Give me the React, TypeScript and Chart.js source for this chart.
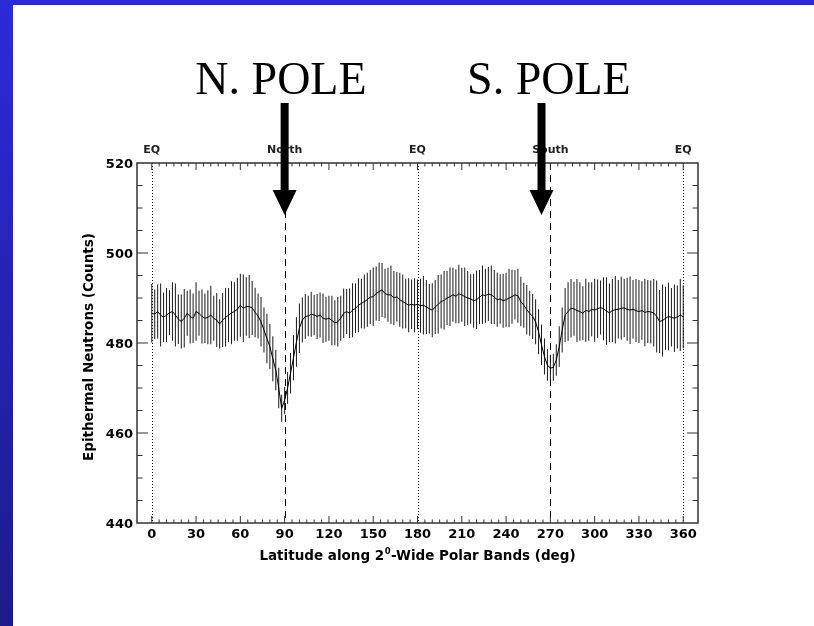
import { useEffect, useRef } from "react";
import { Chart, registerables } from "chart.js";

Chart.register(...registerables);

// ---- data ----
const latitudes = [
  0, 2, 4, 6, 8, 10, 12, 14, 16, 18, 20, 22, 24, 26, 28,
  30, 32, 34, 36, 38, 40, 42, 44, 46, 48, 50, 52, 54, 56, 58,
  60, 62, 64, 66, 68, 70, 72, 74, 76, 78, 80, 82, 84, 86, 88,
  90, 92, 94, 96, 98, 100, 102, 104, 106, 108, 110, 112, 114, 116, 118,
  120, 122, 124, 126, 128, 130, 132, 134, 136, 138, 140, 142, 144, 146, 148,
  150, 152, 154, 156, 158, 160, 162, 164, 166, 168, 170, 172, 174, 176, 178,
  180, 182, 184, 186, 188, 190, 192, 194, 196, 198, 200, 202, 204, 206, 208,
  210, 212, 214, 216, 218, 220, 222, 224, 226, 228, 230, 232, 234, 236, 238,
  240, 242, 244, 246, 248, 250, 252, 254, 256, 258, 260, 262, 264, 266, 268,
  270, 272, 274, 276, 278, 280, 282, 284, 286, 288, 290, 292, 294, 296, 298,
  300, 302, 304, 306, 308, 310, 312, 314, 316, 318, 320, 322, 324, 326, 328,
  330, 332, 334, 336, 338, 340, 342, 344, 346, 348, 350, 352, 354, 356, 358,
  360,
];

const counts = [
  486.6, 486.4, 487.0, 486.2, 485.7, 486.2, 486.7, 487.0, 486.2, 485.3, 484.8, 485.5, 486.6, 485.9, 485.5,
  487.0, 486.6, 485.9, 485.5, 485.7, 486.2, 485.5, 485.1, 484.2, 485.1, 485.7, 486.2, 486.7, 487.0, 487.5,
  488.4, 487.7, 488.1, 488.1, 487.8, 486.8, 486.0, 484.7, 482.9, 481.0, 479.2, 476.5, 474.0, 470.0, 465.5,
  467.3, 470.0, 473.3, 476.7, 480.2, 483.3, 485.1, 485.9, 486.0, 486.4, 486.2, 485.9, 486.2, 485.5, 485.3,
  485.5, 485.0, 484.5, 484.7, 485.5, 486.6, 487.0, 486.6, 487.3, 487.7, 488.4, 488.8, 489.2, 489.6, 490.2,
  490.3, 491.0, 491.4, 491.8, 491.0, 490.7, 490.7, 490.0, 490.3, 489.6, 489.2, 488.8, 488.4, 488.6, 488.4,
  488.6, 488.3, 488.4, 488.0, 487.6, 487.3, 488.0, 488.6, 489.2, 489.5, 490.0, 490.3, 490.7, 490.4, 490.9,
  490.7, 490.3, 490.0, 489.8, 489.4, 489.6, 490.2, 490.7, 490.5, 490.9, 490.7, 490.2, 489.6, 489.8, 489.4,
  489.6, 490.0, 490.3, 490.7, 490.5, 489.2, 488.4, 487.4, 486.6, 485.9, 484.7, 482.5, 479.6, 477.0, 475.1,
  474.4, 474.6, 476.2, 479.2, 482.9, 486.2, 487.0, 487.7, 487.6, 487.2, 487.0, 486.6, 487.3, 487.0, 487.5,
  487.3, 487.6, 487.9, 487.6, 487.1, 486.7, 487.2, 487.4, 487.5, 487.7, 487.8, 487.5, 487.3, 487.5, 487.2,
  487.0, 487.2, 486.8, 487.0, 486.9, 486.7, 485.9, 484.8, 485.0, 485.5, 485.9, 485.7, 485.5, 485.8, 486.2,
  485.8,
];

const errors = [
  6.5, 5.5, 6, 7, 5.5, 6, 5, 6.5, 7, 5.5, 6, 6.5, 5, 6, 5.5,
  6.5, 5, 6, 5.5, 6, 6.5, 5, 6, 5.5, 6, 6.5, 6, 7, 6.5, 7,
  7, 7.5, 6.5, 7, 6, 5.5, 5, 5.5, 5, 5.5, 5, 5, 4.5, 4.5, 3,
  3, 3.5, 4.5, 5, 5.5, 5.5, 5, 5, 4.5, 5, 4.5, 5, 5, 5.5, 5,
  5, 5.5, 5, 5.5, 5, 5.5, 5, 5.5, 6, 5.5, 6, 5.5, 6, 6, 6,
  6.5, 6, 6.5, 6, 5.5, 6, 6.5, 6, 5.5, 6, 6, 5.5, 6, 5.5, 6,
  5.5, 6, 6.5, 6, 5.5, 6, 6, 6.5, 6, 6.5, 6, 6.5, 6, 6, 6.5,
  6, 6.5, 6, 5.5, 6, 6.5, 6, 6.5, 6, 6, 6.5, 6, 6, 5.5, 6,
  6, 6.5, 6, 5.5, 6, 5.5, 5, 5.5, 5, 5, 5, 5, 4.5, 4, 3.5,
  3, 3, 3.5, 4.5, 5, 6, 6.5, 6.5, 6, 7, 6.5, 6, 7, 6.5, 6,
  7, 6.5, 6, 7, 7.5, 6.5, 7, 7.5, 6.5, 7, 6.5, 7, 7.5, 6.5, 7,
  7, 6.5, 7.5, 7, 7, 7.5, 8, 7, 8, 7, 7.5, 6.5, 7.5, 7, 8,
  7,
];

const xTickValues = [0, 30, 60, 90, 120, 150, 180, 210, 240, 270, 300, 330, 360];
const yTickValues = [440, 460, 480, 500, 520];
const topLabelValues = [0, 90, 180, 270, 360];
const topLabelTexts = ["EQ", "North", "EQ", "South", "EQ"];
const dottedLines = [0, 180, 360];
const dashedLines = [90, 270];
const poleTitles = ["N. POLE", "S. POLE"];
const poleTitleCenters = [87.5, 269];
const arrowLatitudes = [90, 264];
const xTitleParts = ["Latitude along 2", "0", "-Wide Polar Bands (deg)"];
const yTitle = "Epithermal Neutrons (Counts)";

const X_MIN = -10;
const X_MAX = 370;
const Y_MIN = 440;
const Y_MAX = 520;
const X_MINOR = 5;
const Y_MINOR = 5;

const SANS = '"DejaVu Sans", sans-serif';

const decorPlugin = {
  id: "decor",
  beforeDatasetsDraw(chart: any) {
    const { ctx, chartArea: a, scales } = chart;
    const x = scales.x;
    ctx.save();
    ctx.strokeStyle = "#000";
    ctx.lineWidth = 1;
    const vline = (v: number, dash: number[]) => {
      const px = Math.round(x.getPixelForValue(v)) + 0.5;
      ctx.setLineDash(dash);
      ctx.beginPath();
      ctx.moveTo(px, a.top);
      ctx.lineTo(px, a.bottom);
      ctx.stroke();
    };
    dottedLines.forEach((v) => vline(v, [1, 2]));
    dashedLines.forEach((v) => vline(v, [7, 5]));
    ctx.restore();
  },
  afterDraw(chart: any) {
    const { ctx, chartArea: a, scales } = chart;
    const x = scales.x;
    const y = scales.y;
    ctx.save();

    // axis box
    ctx.strokeStyle = "#333";
    ctx.lineWidth = 1.5;
    ctx.setLineDash([]);
    ctx.strokeRect(a.left, a.top, a.right - a.left, a.bottom - a.top);

    // ticks (inward, mirrored)
    ctx.lineWidth = 1;
    ctx.beginPath();
    for (let v = 0; v <= 360; v += X_MINOR) {
      const px = x.getPixelForValue(v);
      const len = v % 30 === 0 ? 7 : 3.5;
      ctx.moveTo(px, a.bottom);
      ctx.lineTo(px, a.bottom - len);
      ctx.moveTo(px, a.top);
      ctx.lineTo(px, a.top + len);
    }
    for (let v = Y_MIN + Y_MINOR; v < Y_MAX; v += Y_MINOR) {
      const py = y.getPixelForValue(v);
      const len = v % 20 === 0 ? 11 : 5.5;
      ctx.moveTo(a.left, py);
      ctx.lineTo(a.left + len, py);
      ctx.moveTo(a.right, py);
      ctx.lineTo(a.right - len, py);
    }
    ctx.stroke();

    // top labels
    ctx.fillStyle = "#222";
    ctx.font = `bold 11px ${SANS}`;
    ctx.textAlign = "center";
    ctx.textBaseline = "alphabetic";
    topLabelValues.forEach((v, i) => {
      ctx.fillText(topLabelTexts[i], x.getPixelForValue(v), 153);
    });

    // y title
    ctx.save();
    ctx.fillStyle = "#000";
    ctx.font = `bold 13.5px ${SANS}`;
    ctx.translate(89, (a.top + a.bottom) / 2 + 4);
    ctx.rotate(-Math.PI / 2);
    ctx.textAlign = "center";
    ctx.textBaseline = "middle";
    ctx.fillText(yTitle, 0, 0);
    ctx.restore();

    // x title with superscript
    ctx.fillStyle = "#000";
    ctx.textAlign = "left";
    ctx.textBaseline = "alphabetic";
    const big = `bold 13.5px ${SANS}`;
    const small = `bold 8.5px ${SANS}`;
    ctx.font = big;
    const w1 = ctx.measureText(xTitleParts[0]).width;
    const w3 = ctx.measureText(xTitleParts[2]).width;
    ctx.font = small;
    const w2 = ctx.measureText(xTitleParts[1]).width + 1;
    const total = w1 + w2 + w3;
    let sx = (a.left + a.right) / 2 - total / 2;
    const base = 560;
    ctx.font = big;
    ctx.fillText(xTitleParts[0], sx, base);
    sx += w1;
    ctx.font = small;
    ctx.fillText(xTitleParts[1], sx + 0.5, base - 6);
    sx += w2;
    ctx.font = big;
    ctx.fillText(xTitleParts[2], sx, base);

    // pole titles
    ctx.font = '46px "Liberation Serif", "Times New Roman", serif';
    ctx.textAlign = "center";
    poleTitles.forEach((t, i) => {
      ctx.fillText(t, x.getPixelForValue(poleTitleCenters[i]), 94);
    });

    // arrows
    ctx.fillStyle = "#000";
    arrowLatitudes.forEach((v) => {
      const px = x.getPixelForValue(v);
      ctx.fillRect(px - 4, 103, 8, 89);
      ctx.beginPath();
      ctx.moveTo(px - 12, 190);
      ctx.lineTo(px + 12, 190);
      ctx.lineTo(px, 215);
      ctx.closePath();
      ctx.fill();
    });

    ctx.restore();
  },
};

export default function App() {
  const canvasRef = useRef<HTMLCanvasElement | null>(null);

  useEffect(() => {
    const canvas = canvasRef.current;
    if (!canvas) return;
    const barData = latitudes.map((lat, i) => ({
      x: lat,
      y: [counts[i] - errors[i], counts[i] + errors[i]],
    }));
    const lineData = latitudes.map((lat, i) => ({ x: lat, y: counts[i] }));

    const chart = new Chart(canvas, {
      type: "line",
      data: {
        datasets: [
          {
            type: "bar",
            label: "error",
            data: barData as any,
            backgroundColor: "#1a1a1a",
            borderWidth: 0,
            barThickness: 1,
            grouped: false,
            inflateAmount: 0,
            order: 2,
          } as any,
          {
            type: "line",
            label: "counts",
            data: lineData,
            borderColor: "#000",
            borderWidth: 1,
            pointRadius: 0,
            tension: 0,
            order: 1,
          },
        ],
      },
      options: {
        responsive: false,
        animation: false,
        layout: { padding: { top: 163, right: 116, left: 0, bottom: 0 } },
        plugins: {
          legend: { display: false },
          title: { display: false },
          tooltip: { enabled: false },
        },
        scales: {
          x: {
            type: "linear",
            min: X_MIN,
            max: X_MAX,
            offset: false,
            grid: { display: false, drawTicks: false, tickLength: 0 },
            border: { display: false },
            ticks: {
              padding: 4,
              color: "#000",
              maxRotation: 0,
              autoSkip: false,
              font: { family: "DejaVu Sans", size: 13, weight: "bold" },
            },
            afterBuildTicks: (s: any) => {
              s.ticks = xTickValues.map((v) => ({ value: v }));
            },
            afterFit: (s: any) => {
              s.height = 103;
            },
          },
          y: {
            type: "linear",
            min: Y_MIN,
            max: Y_MAX,
            grid: { display: false, drawTicks: false, tickLength: 0 },
            border: { display: false },
            ticks: {
              padding: 4,
              labelOffset: 2,
              color: "#000",
              font: { family: "DejaVu Sans", size: 13, weight: "bold" },
            },
            afterBuildTicks: (s: any) => {
              s.ticks = yTickValues.map((v) => ({ value: v }));
            },
            afterFit: (s: any) => {
              s.width = 137;
            },
          },
        },
      } as any,
      plugins: [decorPlugin],
    });

    return () => chart.destroy();
  }, []);

  return (
    <div
      style={{
        position: "absolute",
        left: 0,
        top: 0,
        width: 814,
        height: 626,
        background: "#fff",
        overflow: "hidden",
      }}
    >
      <canvas ref={canvasRef} width={814} height={626} style={{ display: "block" }} />
      <div
        style={{
          position: "absolute",
          left: 0,
          top: 0,
          width: 814,
          height: 5,
          background: "#2b28d8",
        }}
      />
      <div
        style={{
          position: "absolute",
          left: 0,
          top: 0,
          width: 13,
          height: 626,
          background: "linear-gradient(to bottom, #2c2ad9, #1c1b8c)",
        }}
      />
    </div>
  );
}
